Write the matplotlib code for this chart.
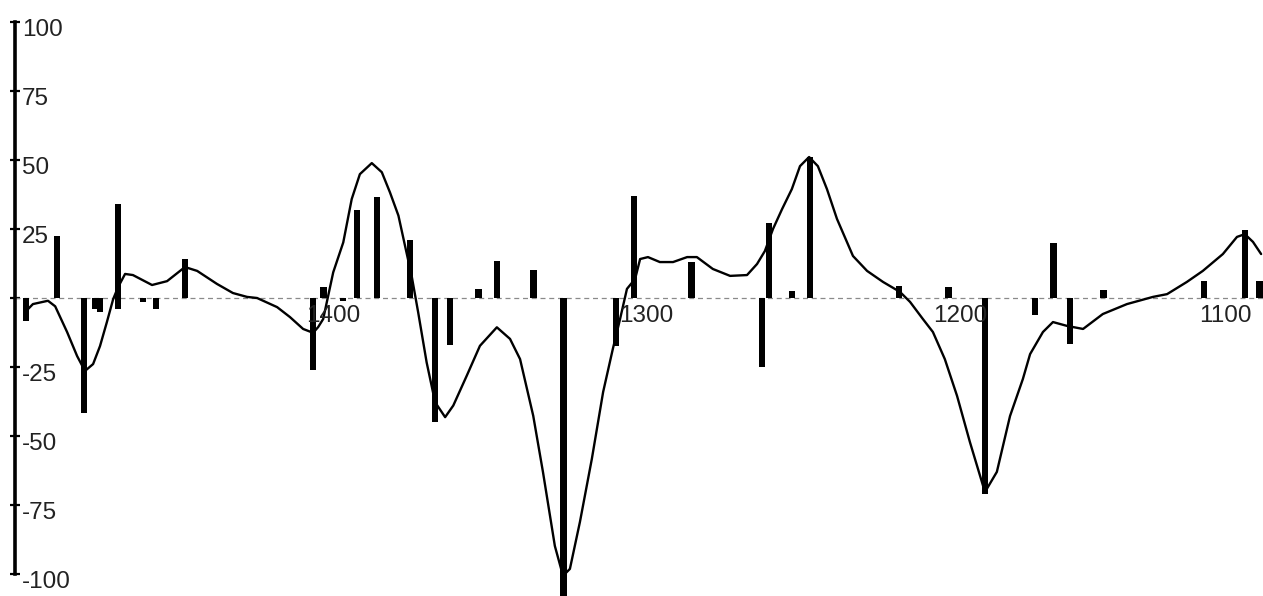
import matplotlib
matplotlib.use('Agg')
import matplotlib.pyplot as plt

plt.rcParams['font.family'] = ['Liberation Sans', 'DejaVu Sans']

# stick spectrum (position, intensity)
stick_pos = [1496.5, 1486.6, 1478.0, 1474.5, 1472.9, 1467.1, 1467.1, 1459.2, 1455.0,
             1445.8, 1404.9, 1401.6, 1395.4, 1390.9, 1384.5, 1374.0, 1366.0, 1361.2,
             1352.2, 1346.3, 1334.6, 1325.0, 1308.3, 1302.6, 1284.2, 1261.7, 1259.5,
             1252.2, 1246.4, 1218.0, 1202.2, 1190.6, 1174.6, 1168.7, 1163.5, 1152.8,
             1120.7, 1107.7, 1103.0]
stick_val = [-8.3, 22.4, -41.5, -4.0, -5.0, 34.0, -4.0, -1.5, -4.0,
             14.0, -26.0, 4.0, -1.0, 32.0, 36.5, 21.0, -45.0, -17.0,
             3.3, 13.5, 10.0, -110.0, -17.5, 37.0, 13.0, -25.0, 27.0,
             2.5, 51.0, 4.5, 4.0, -71.0, -6.0, 20.0, -16.5, 3.0,
             6.0, 24.5, 6.0]

# smooth curve
curve_x = [1496.8, 1494.3, 1489.5, 1487.2, 1483.4, 1480.2, 1477.7, 1475.1, 1472.9, 1470.7,
           1468.7, 1467.1, 1464.9, 1462.4, 1456.3, 1451.5, 1445.8, 1441.9, 1435.6, 1430.5,
           1426.0, 1422.8, 1416.4, 1412.3, 1408.1, 1404.9, 1403.3, 1401.7, 1398.5, 1395.3,
           1392.6, 1390.0, 1386.2, 1383.0, 1380.4, 1377.7, 1375.6, 1373.5, 1371.4, 1368.7,
           1366.0, 1362.8, 1360.2, 1355.9, 1351.7, 1346.3, 1342.1, 1338.9, 1334.7, 1331.6,
           1327.8, 1325.2, 1323.0, 1319.8, 1316.0, 1312.4, 1309.3, 1307.0, 1304.8, 1302.2,
           1300.6, 1298.1, 1294.3, 1290.1, 1285.6, 1282.5, 1277.4, 1271.9, 1266.5, 1263.3,
           1260.8, 1258.2, 1255.3, 1252.2, 1249.6, 1246.7, 1243.9, 1241.0, 1237.8, 1232.7,
           1228.2, 1223.1, 1217.7, 1214.5, 1210.4, 1207.2, 1203.4, 1199.5, 1195.4, 1190.6,
           1186.8, 1182.6, 1178.5, 1176.2, 1172.1, 1168.9, 1164.4, 1159.3, 1153.0, 1145.3,
           1137.0, 1132.5, 1126.2, 1121.1, 1114.7, 1110.2, 1107.7, 1105.1, 1102.5]
curve_y = [-5.1, -2.2, -1.0, -3.0, -12.3, -21.0, -26.4, -23.9, -17.4, -8.7,
           -0.4, 4.0, 8.7, 8.3, 4.7, 6.1, 11.2, 9.8, 5.1, 1.8,
           0.4, 0.0, -3.3, -6.9, -11.2, -12.6, -10.5, -7.6, 9.3, 20.1,
           35.8, 44.8, 48.8, 45.5, 38.2, 29.8, 18.9, 8.1, -5.2, -23.3,
           -37.7, -43.1, -38.9, -28.1, -17.3, -10.6, -14.8, -22.1, -42.6, -62.9,
           -89.7, -100.5, -98.0, -81.0, -58.2, -34.0, -18.4, -7.6, 3.3, 6.9,
           14.1, 14.8, 13.0, 13.0, 14.8, 14.8, 10.5, 8.0, 8.3, 12.3,
           17.0, 25.0, 32.2, 39.4, 47.7, 51.0, 47.7, 39.4, 28.6, 15.2,
           9.8, 5.8, 2.2, -1.4, -7.6, -12.3, -22.1, -35.4, -52.1, -70.2,
           -62.9, -42.7, -29.3, -20.3, -12.3, -8.7, -10.1, -11.2, -5.8, -2.2,
           0.4, 1.4, 5.8, 9.8, 15.9, 22.1, 23.1, 20.3, 15.9]

y_ticks = [100, 75, 50, 25, 0, -25, -50, -75, -100]
y_labels = ['100', '75', '50', '25', '', '-25', '-50', '-75', '-100']
x_ticks = [1400, 1300, 1200, 1100]

fig = plt.figure(figsize=(12.63, 5.96), dpi=100)
ax = fig.add_axes([0, 0, 1, 1])
ax.set_xlim(1504.8, 1101.9)
ax.set_ylim(-107.8, 107.8)

ax.hlines(0, 1500, 1090, colors='#8a8a8a', linewidth=0.9, linestyles=(0, (4, 3)))
ax.bar(stick_pos, stick_val, width=2.0, color='black', zorder=2)
ax.plot(curve_x, curve_y, color='black', linewidth=1.7, zorder=3,
        solid_joinstyle='round', solid_capstyle='round')

for s in ['top', 'right', 'bottom']:
    ax.spines[s].set_visible(False)
ax.spines['left'].set_position(('data', 1500))
ax.spines['left'].set_bounds(-100, 100)
ax.spines['left'].set_linewidth(2.6)
ax.set_xticks([])
ax.set_yticks(y_ticks)
ax.tick_params(axis='y', direction='inout', length=7, width=1.6, labelleft=False)

# y labels sit to the right of the axis
for v, lab in zip(y_ticks, y_labels):
    ax.annotate(lab, xy=(1500, v), xytext=(7, 3), textcoords='offset pixels',
                ha='left', va='top', fontsize=17.5, color='#222222')

# x labels under the zero line, last one pulled inside the edge
for v in x_ticks[:-1]:
    ax.annotate(str(v), xy=(v, 0), xytext=(4.5, -7), textcoords='offset pixels',
                ha='center', va='top', fontsize=17.5, color='#222222')
ax.annotate(str(x_ticks[-1]), xy=(1, 0), xycoords=('axes fraction', 'data'),
            xytext=(-11, -7), textcoords='offset pixels',
            ha='right', va='top', fontsize=17.5, color='#222222')

fig.savefig('out.png', dpi=100)
